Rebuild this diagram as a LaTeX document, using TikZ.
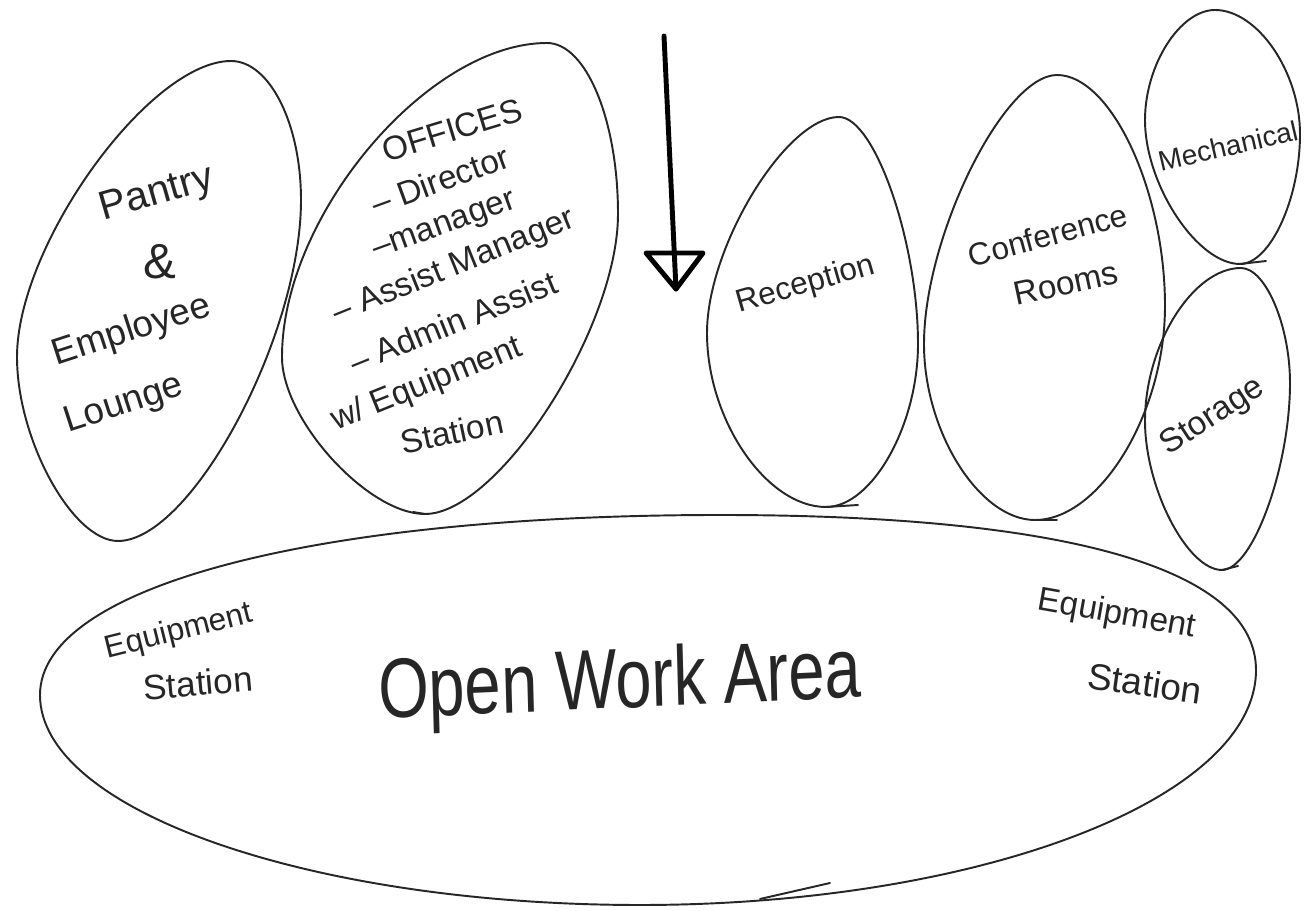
\documentclass[tikz,border=0pt]{standalone}
\usepackage{fontspec}
\setmainfont{Liberation Sans}
\usetikzlibrary{calc}
\newcommand{\eggshape}[9]{%
  \coordinate (#1T) at #2; \coordinate (#1R) at #3;
  \coordinate (#1B) at #4; \coordinate (#1L) at #5;
  \draw[bubble] (#1T)
    .. controls ($(#1T)!#6!(#1T-|#1R)$) and ($(#1R)!#6!(#1T-|#1R)$) .. (#1R)
    .. controls ($(#1R)!#7!(#1B-|#1R)$) and ($(#1B)!#7!(#1B-|#1R)$) .. (#1B)
    .. controls ($(#1B)!#8!(#1B-|#1L)$) and ($(#1L)!#8!(#1B-|#1L)$) .. (#1L)
    .. controls ($(#1L)!#9!(#1T-|#1L)$) and ($(#1T)!#9!(#1T-|#1L)$) .. (#1T) -- cycle;}
\begin{document}
\begin{tikzpicture}[x=0.02cm,y=-0.02cm,
  bubble/.style={draw=black!85, line width=1.1pt, line join=round, line cap=round},
  hand/.style={inner sep=0pt, align=center, text=black!85},
  fa/.style={font=\fontsize{21}{24}\selectfont},
  fb/.style={font=\fontsize{19}{22}\selectfont},
  arrowline/.style={draw=black, line width=2.8pt, line join=round, line cap=round}
]
\useasboundingbox[fill=white] (0,0) rectangle (1306,911);

% bubbles
\eggshape{pan}{(231,61)}{(301,200)}{(118,541)}{(17,357)}{0.55}{0.4}{0.45}{0.38}
\eggshape{off}{(547,43)}{(618,214)}{(425,514)}{(282,357)}{0.55}{0.38}{0.4}{0.45}
\eggshape{rec}{(839,117)}{(918,344)}{(826,507)}{(707,333)}{0.45}{0.5}{0.5}{0.4}
\eggshape{con}{(1057,75)}{(1165,306)}{(1035,520)}{(924,344)}{0.5}{0.5}{0.5}{0.4}
\eggshape{mec}{(1215,10)}{(1300,134)}{(1240,264)}{(1145,120)}{0.5}{0.5}{0.45}{0.5}
\eggshape{sto}{(1241,268)}{(1290,383)}{(1222,570)}{(1145,421)}{0.5}{0.45}{0.45}{0.5}
\eggshape{owa}{(720,515)}{(1256,670)}{(640,905)}{(40,695)}{0.65}{0.55}{0.55}{0.6}

% pen overstrokes at the bubble tips
\draw[bubble] (recB) -- ++(32,-2);
\draw[bubble] (conB) -- ++(22,0);
\draw[bubble] (mecB) -- ++(26,-3);
\draw[bubble] (stoB) -- ++(16,-4);
\draw[bubble] (offB) -- ++(-12,-2);
\draw[bubble] (owaB) ++(120,-6) -- ++(70,-16);

% Entry arrow
\coordinate (arrtop) at (664,36);
\coordinate (arrtip) at (676,289);
\coordinate (arrl) at (646,253);
\coordinate (arrr) at (703,253);
\draw[arrowline] (arrtop) -- (arrtip);
\draw[arrowline] (arrl) -- (arrr) -- (arrtip) -- cycle;

% Labels
\node[hand, font=\fontsize{23}{26}\selectfont, rotate=16] (pantry) at (157,195) {Pantry};
\node[hand, font=\fontsize{28}{30}\selectfont] (amp) at (160,262) {\&};
\node[hand, fa, rotate=18] (employee) at (132,331) {Employee};
\node[hand, fa, rotate=18] (lounge) at (124,405) {Lounge};

\node[hand, fb, rotate=17] (offices) at (452,130) {OFFICES};
\node[hand, fb, rotate=20] (director) at (440,180) {– Director};
\node[hand, fb, rotate=20] (manager) at (445,228) {–manager};
\node[hand, fb, rotate=22] (asstmgr) at (454,267) {– Assist Manager};
\node[hand, fb, rotate=22] (admin) at (453,322) {– Admin Assist};
\node[hand, fb, rotate=22] (wequip) at (427,385) {w/ Equipment};
\node[hand, fb, rotate=12] (ostation) at (452,432) {Station};

\node[hand, font=\fontsize{18}{21}\selectfont, rotate=16] (reception) at (806,285) {Reception};
\node[hand, font=\fontsize{18}{21}\selectfont, rotate=15] (conference) at (1048,235) {Conference};
\node[hand, fb, rotate=12] (rooms) at (1066,283) {Rooms};
\node[hand, font=\fontsize{16}{19}\selectfont, rotate=13] (mechanical) at (1228,146) {Mechanical};
\node[hand, fb, rotate=33] (storage) at (1213,417) {Storage};

\node[hand, font=\fontsize{18}{21}\selectfont, rotate=14] (lequip) at (179,632) {Equipment};
\node[hand, font=\fontsize{20}{23}\selectfont, rotate=5] (lstation) at (198,683) {Station};
\node[hand, font=\fontsize{37}{40}\selectfont, yscale=1.3, rotate=2] (openwork) at (620,686) {Open Work Area};
\node[hand, font=\fontsize{19}{22}\selectfont, rotate=-10] (requip) at (1117,615) {Equipment};
\node[hand, font=\fontsize{21}{24}\selectfont, rotate=-8] (rstation) at (1145,683) {Station};
\end{tikzpicture}
\end{document}
